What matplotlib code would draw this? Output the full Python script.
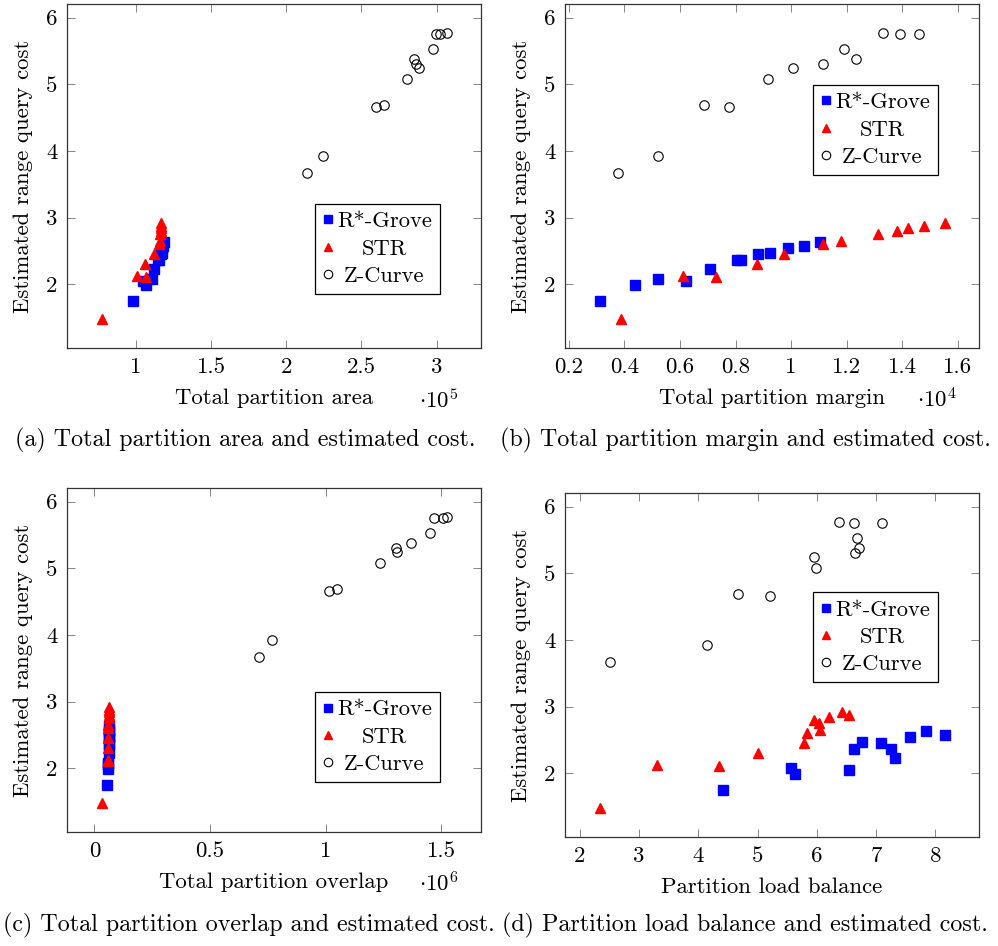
import matplotlib
matplotlib.use("Agg")
import matplotlib.pyplot as plt
from matplotlib.ticker import MultipleLocator, FuncFormatter

plt.rcParams['font.family'] = ['cmr10', 'DejaVu Serif']
plt.rcParams['mathtext.fontset'] = 'cm'
plt.rcParams['axes.formatter.use_mathtext'] = True

# estimated range query cost, one value per configuration
cost_rgrove = [1.755, 1.99, 2.055, 2.08, 2.23, 2.36, 2.37, 2.46, 2.47, 2.54, 2.575, 2.63]
cost_str = [1.475, 2.11, 2.125, 2.30, 2.45, 2.61, 2.65, 2.76, 2.80, 2.84, 2.87, 2.92]
cost_zcurve = [3.675, 3.93, 4.665, 4.685, 5.08, 5.25, 5.31, 5.375, 5.535, 5.75, 5.76, 5.775]

# total partition area (x 1e5)
area_rgrove = [0.98, 1.068, 1.046, 1.105, 1.118, 1.15, 1.155, 1.17, 1.171, 1.175, 1.18, 1.19]
area_str = [0.772, 1.068, 1.007, 1.061, 1.12, 1.155, 1.16, 1.163, 1.165, 1.168, 1.165, 1.17]
area_zcurve = [2.14, 2.244, 2.60, 2.65, 2.805, 2.882, 2.862, 2.849, 2.973, 3.02, 2.995, 3.066]

# total partition margin (x 1e4)
margin_rgrove = [0.31, 0.437, 0.62, 0.522, 0.708, 0.805, 0.82, 0.88, 0.923, 0.989, 1.047, 1.104]
margin_str = [0.389, 0.731, 0.612, 0.879, 0.973, 1.117, 1.181, 1.315, 1.383, 1.423, 1.48, 1.553]
margin_zcurve = [0.377, 0.521, 0.778, 0.687, 0.916, 1.006, 1.115, 1.234, 1.19, 1.392, 1.46, 1.333]

# total partition overlap (x 1e6)
overlap_rgrove = [0.053, 0.060, 0.061, 0.061, 0.062, 0.062, 0.063, 0.063, 0.064, 0.064, 0.064, 0.065]
overlap_str = [0.031, 0.058, 0.058, 0.059, 0.060, 0.061, 0.061, 0.062, 0.062, 0.063, 0.063, 0.063]
overlap_zcurve = [0.713, 0.769, 1.013, 1.05, 1.233, 1.31, 1.305, 1.37, 1.45, 1.506, 1.467, 1.522]

# partition load balance
balance_rgrove = [4.42, 5.63, 6.54, 5.57, 7.32, 6.62, 7.26, 7.09, 6.77, 7.565, 8.155, 7.85]
balance_str = [2.33, 4.345, 3.305, 5.01, 5.78, 5.83, 6.05, 6.04, 5.95, 6.21, 6.54, 6.42]
balance_zcurve = [2.51, 4.15, 5.205, 4.66, 5.98, 5.96, 6.64, 6.71, 6.68, 6.63, 7.10, 6.375]

labels = ["R*-Grove", "STR", "Z-Curve"]

panels = [
    dict(xs=(area_rgrove, area_str, area_zcurve), xlabel="Total partition area",
         scale=r"$\cdot10^{5}$", step=0.5,
         caption="(a) Total partition area and estimated cost.",
         rect=[67, 4, 414, 344], leg=(0.9, 0.157), cap=(245, 440)),
    dict(xs=(margin_rgrove, margin_str, margin_zcurve), xlabel="Total partition margin",
         scale=r"$\cdot10^{4}$", step=0.2,
         caption="(b) Total partition margin and estimated cost.",
         rect=[565, 4, 414, 344], leg=(0.9, 0.503), cap=(745, 440)),
    dict(xs=(overlap_rgrove, overlap_str, overlap_zcurve), xlabel="Total partition overlap",
         scale=r"$\cdot10^{6}$", step=0.5,
         caption="(c) Total partition overlap and estimated cost.",
         rect=[67, 488, 414, 344], leg=(0.9, 0.145), cap=(249, 925)),
    dict(xs=(balance_rgrove, balance_str, balance_zcurve), xlabel="Partition load balance",
         scale=None, step=1,
         caption="(d) Partition load balance and estimated cost.",
         rect=[565, 493, 414, 344], leg=(0.9, 0.45), cap=(745, 925)),
]

W, H = 998, 946
fig = plt.figure(figsize=(W / 100, H / 100), dpi=100)
fs = 16.4       # axis text
fs_leg = 16.2   # legend entries
fs_cap = 17.3   # sub-captions

fmt = FuncFormatter(lambda v, p: "%g" % round(v, 6))
legends = []

for p in panels:
    l, t, w, h = p["rect"]
    ax = fig.add_axes([l / W, 1 - (t + h) / H, w / W, h / H])
    xr, xs_, xz = p["xs"]
    ax.plot(xr, cost_rgrove, ls="none", marker="s", ms=6.5, color="blue", mec="blue", label=labels[0])
    ax.plot(xs_, cost_str, ls="none", marker="^", ms=6.5, color="red", mec="red", label=labels[1])
    ax.plot(xz, cost_zcurve, ls="none", marker="o", ms=6.8, mfc="none", mec="black", mew=0.8, label=labels[2])
    ax.margins(x=0.1, y=0.1)
    ax.xaxis.set_major_locator(MultipleLocator(p["step"]))
    ax.yaxis.set_major_locator(MultipleLocator(1))
    ax.xaxis.set_major_formatter(fmt)
    ax.yaxis.set_major_formatter(fmt)
    ax.tick_params(direction="in", length=5.5, width=0.6, color="0.45",
                   top=True, right=True, labelsize=fs, pad=7)
    for s in ax.spines.values():
        s.set_linewidth(0.9)
        s.set_color("0.2")
    ax.set_xlabel(p["xlabel"], fontsize=fs, labelpad=8)
    ax.set_ylabel("Estimated range query cost", fontsize=fs, labelpad=9)
    if p["scale"]:
        ax.annotate(p["scale"], xy=(0.945, 0), xycoords=ax.xaxis.label,
                    xytext=(0, 0), textcoords="offset points",
                    fontsize=fs, ha="right", va="baseline")
        ax.texts[-1].xycoords = (ax.transAxes, ax.xaxis.label)
    leg = ax.legend(loc="lower right", bbox_to_anchor=p["leg"], borderaxespad=0,
                    fontsize=fs_leg, fancybox=False, framealpha=1, edgecolor="black",
                    handlelength=0.4, handletextpad=0.2, borderpad=0.35,
                    labelspacing=0.34, markerscale=0.9)
    leg.get_frame().set_linewidth(0.9)
    legends.append(leg)
    cx, cy = p["cap"]
    fig.text(cx / W, 1 - cy / H, p["caption"], fontsize=fs_cap, ha="center", va="center")

# centre legend entries like pgfplots does
fig.canvas.draw()
r = fig.canvas.get_renderer()
for leg in legends:
    texts = leg.get_texts()
    ws = [tx.get_window_extent(r).width for tx in texts]
    m = max(ws)
    for tx, wd in zip(texts, ws):
        tx.set_x((m - wd) / 2)

fig.savefig("out.png", dpi=100)
